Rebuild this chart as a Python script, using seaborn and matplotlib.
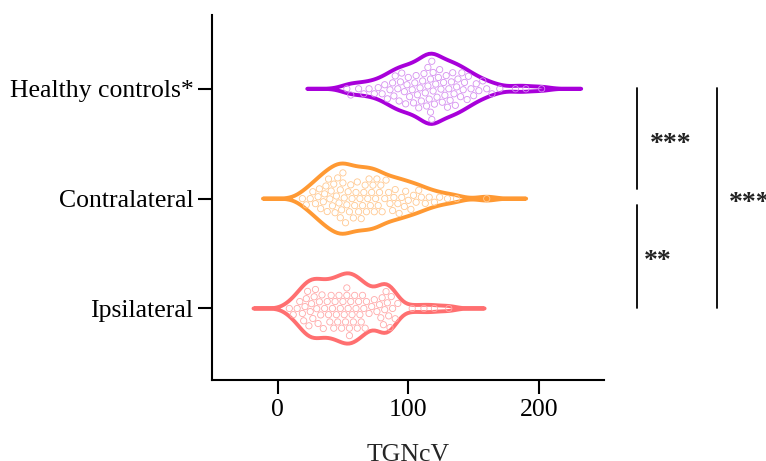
import numpy as np
import pandas as pd
import matplotlib
matplotlib.use("Agg")
import matplotlib.pyplot as plt
import seaborn as sns

groups = ["Healthy controls*", "Contralateral", "Ipsilateral"]
healthy = [53, 56, 62, 66, 70, 74, 77, 80, 82, 84, 86, 88, 89, 90, 92, 93, 94, 95, 97, 98,
           99, 100, 101, 103, 104, 105, 106, 107, 108, 109, 110, 111, 112, 113, 114, 115,
           115, 116, 117, 117, 118, 118, 119, 119, 120, 121, 122, 123, 124, 125, 126, 127,
           128, 129, 130, 131, 132, 133, 134, 135, 136, 137, 138, 140, 141, 142, 143, 145,
           146, 148, 150, 152, 154, 157, 160, 164, 170, 182, 190, 202]
contra = [19, 22, 25, 27, 29, 31, 32, 33, 35, 36, 37, 38, 39, 40, 41, 42, 43, 44, 45, 46,
          47, 48, 48, 49, 50, 50, 51, 52, 53, 54, 55, 56, 57, 58, 59, 60, 61, 62, 63, 64, 65,
          66, 67, 68, 69, 70, 71, 72, 73, 74, 75, 76, 77, 78, 79, 80, 82, 83, 85, 86, 88,
          89, 90, 92, 93, 95, 97, 98, 100, 102, 104, 106, 108, 110, 113, 116, 120, 124,
          130, 137, 160]
ipsi = [9, 12, 15, 17, 19, 20, 21, 22, 23, 24, 25, 26, 27, 28, 29, 30, 31, 32, 33, 34, 35,
        36, 38, 39, 40, 41, 42, 43, 44, 45, 46, 47, 48, 49, 50, 51, 52, 53, 53, 54, 55,
        55, 56, 57, 58, 59, 60, 61, 62, 63, 64, 65, 66, 67, 68, 70, 72, 74, 76, 78, 79,
        80, 81, 82, 83, 84, 85, 86, 87, 88, 90, 92, 103, 112, 120, 131]
line_colors = ["#A800DA", "#FF9933", "#FF6F70"]
point_colors = ["#D590F0", "#FFC890", "#FFA8A8"]
xticks = [0, 100, 200]
xlabel = "TGNcV"
sig_marks = ["***", "**", "***"]

df = pd.DataFrame({
    "group": [groups[0]] * len(healthy) + [groups[1]] * len(contra) + [groups[2]] * len(ipsi),
    "value": healthy + contra + ipsi,
})

sns.set_style("ticks")
plt.rcParams["font.family"] = ["Liberation Serif", "DejaVu Serif"]

fig = plt.figure(figsize=(7.66, 4.61), dpi=100)
ax = fig.add_axes([0.277, 0.176, 0.512, 0.791])

pal_line = dict(zip(groups, line_colors))
pal_pt = dict(zip(groups, point_colors))

sns.violinplot(data=df, x="value", y="group", hue="group", palette=pal_line, order=groups,
               orient="h", inner=None, fill=False, linewidth=2.8, density_norm="width",
               width=0.64, bw_adjust=0.55, cut=4.5, legend=False, ax=ax)
n_before = len(ax.collections)
sns.swarmplot(data=df, x="value", y="group", hue="group", palette=pal_pt, order=groups,
              orient="h", size=4.5, marker="o", legend=False, ax=ax)
for coll in ax.collections[n_before:]:
    fc = coll.get_facecolor()
    coll.set_edgecolor(fc)
    coll.set_facecolor("none")
    coll.set_linewidth(0.6)

ax.set_xlim(-50, 250)
ax.set_ylim(2.65, -0.67)
ax.set_xticks(xticks)
ax.set_xlabel(xlabel, fontsize=18.5, labelpad=17)
ax.set_ylabel("")
ax.tick_params(axis="both", labelsize=18.5, length=10, width=1.5, color="black", labelcolor="black")
for side in ["top", "right"]:
    ax.spines[side].set_visible(False)
for side in ["left", "bottom"]:
    ax.spines[side].set_linewidth(1.5)
    ax.spines[side].set_color("black")

tr = ax.get_yaxis_transform()
ax.plot([1.084, 1.084], [-0.01, 0.91], transform=tr, color="black", lw=1.3, clip_on=False)
ax.plot([1.084, 1.084], [1.06, 2.0], transform=tr, color="black", lw=1.3, clip_on=False)
ax.plot([1.286, 1.286], [-0.01, 2.0], transform=tr, color="black", lw=1.3, clip_on=False)
ax.text(1.168, 0.51, sig_marks[0], transform=tr, ha="center", va="center", fontsize=20,
        fontweight="bold", color="#222222")
ax.text(1.135, 1.57, sig_marks[1], transform=tr, ha="center", va="center", fontsize=20,
        fontweight="bold", color="#222222")
ax.text(1.37, 1.04, sig_marks[2], transform=tr, ha="center", va="center", fontsize=20,
        fontweight="bold", color="#222222")

fig.savefig("out.png", dpi=100)
